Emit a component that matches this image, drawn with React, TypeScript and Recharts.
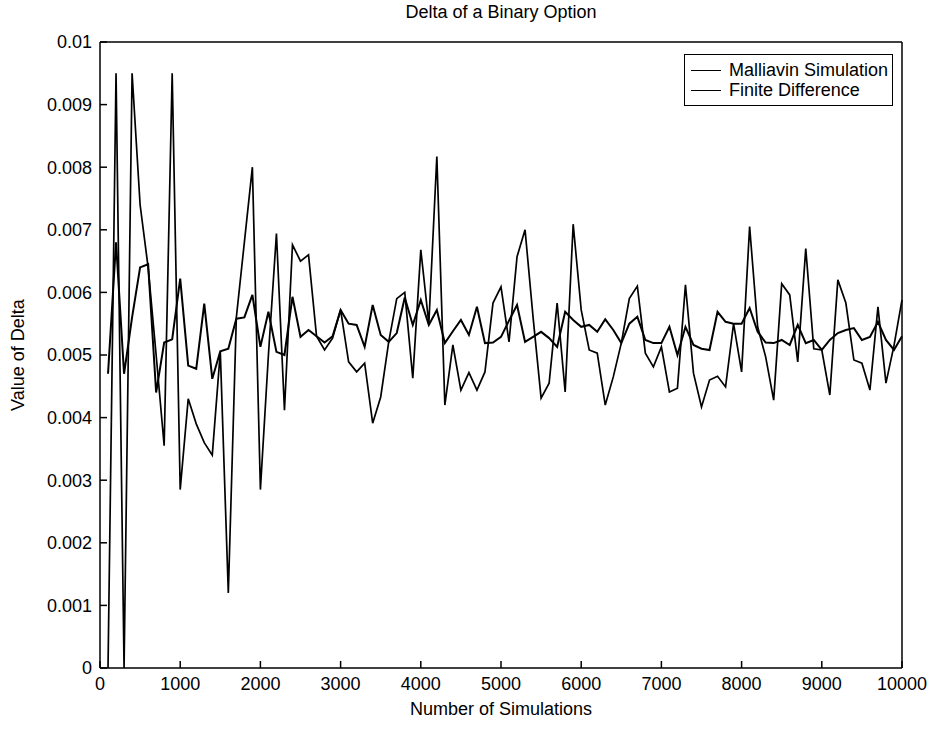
import { LineChart, Line, XAxis, YAxis, Legend } from "recharts";

// number of simulations at each sample
const SIMULATIONS = [
  100, 200, 300, 400, 500, 600, 700, 800, 900, 1000,
  1100, 1200, 1300, 1400, 1500, 1600, 1700, 1800, 1900, 2000,
  2100, 2200, 2300, 2400, 2500, 2600, 2700, 2800, 2900, 3000,
  3100, 3200, 3300, 3400, 3500, 3600, 3700, 3800, 3900, 4000,
  4100, 4200, 4300, 4400, 4500, 4600, 4700, 4800, 4900, 5000,
  5100, 5200, 5300, 5400, 5500, 5600, 5700, 5800, 5900, 6000,
  6100, 6200, 6300, 6400, 6500, 6600, 6700, 6800, 6900, 7000,
  7100, 7200, 7300, 7400, 7500, 7600, 7700, 7800, 7900, 8000,
  8100, 8200, 8300, 8400, 8500, 8600, 8700, 8800, 8900, 9000,
  9100, 9200, 9300, 9400, 9500, 9600, 9700, 9800, 9900, 10000,
];

const MALLIAVIN = [
  0.0047, 0.0068, 0.0047, 0.0056, 0.0064, 0.00645, 0.0044, 0.0052, 0.00525, 0.00622,
  0.00483, 0.00478, 0.00582, 0.00462, 0.00506, 0.0051, 0.00558, 0.0056, 0.00596, 0.00513,
  0.00569, 0.00505, 0.005, 0.00593, 0.00529, 0.0054, 0.0053, 0.0052, 0.0053, 0.00572,
  0.0055, 0.00548, 0.00513, 0.0058, 0.00532, 0.00521, 0.00535, 0.00592, 0.00548, 0.00588,
  0.00548, 0.00572, 0.00519, 0.00538, 0.00556, 0.00532, 0.00577, 0.00519, 0.0052, 0.00529,
  0.00555, 0.0058, 0.00521, 0.00529, 0.00537, 0.00527, 0.00513, 0.00569, 0.00556, 0.00545,
  0.00548, 0.00537, 0.00557, 0.0054, 0.00519, 0.0055, 0.00561, 0.00524, 0.00519, 0.00519,
  0.00545, 0.005, 0.00545, 0.00516, 0.0051, 0.00508, 0.00569, 0.00553, 0.0055, 0.0055,
  0.00575, 0.00537, 0.0052, 0.00519, 0.00524, 0.00516, 0.00548, 0.00519, 0.00524, 0.00508,
  0.00524, 0.00535, 0.0054, 0.00543, 0.00524, 0.00529, 0.00553, 0.00524, 0.00508, 0.0053,
];

const FINITE_DIFFERENCE = [
  0, 0.0095, 0, 0.0095, 0.0074, 0.0064, 0.005, 0.00355, 0.0095, 0.00285,
  0.0043, 0.0039, 0.0036, 0.0034, 0.00505, 0.0012, 0.0056, 0.0068, 0.008, 0.00285,
  0.005, 0.00694, 0.00412, 0.00676, 0.0065, 0.0066, 0.0053, 0.00508, 0.00527, 0.00572,
  0.00489, 0.00473, 0.00487, 0.00391, 0.00433, 0.00521, 0.0059, 0.006, 0.00463, 0.00668,
  0.0055, 0.00817, 0.0042, 0.00516, 0.00444, 0.00472, 0.00444, 0.00473, 0.00583, 0.00609,
  0.00521, 0.00657, 0.007, 0.0056, 0.00431, 0.00455, 0.00583, 0.00441, 0.00709, 0.00572,
  0.00508, 0.00503, 0.0042, 0.00465, 0.00519, 0.0059, 0.0061, 0.00503, 0.00481, 0.00513,
  0.00441, 0.00447, 0.00612, 0.00471, 0.00417, 0.0046, 0.00466, 0.00449, 0.0055, 0.00473,
  0.00705, 0.00545, 0.00497, 0.00428, 0.00614, 0.00596, 0.00489, 0.0067, 0.0051, 0.00508,
  0.00436, 0.0062, 0.00583, 0.00492, 0.00487, 0.00444, 0.00577, 0.00455, 0.00515, 0.00588,
];

const SERIES_NAMES = ["Malliavin Simulation", "Finite Difference"];
const X_TICKS = [0, 1000, 2000, 3000, 4000, 5000, 6000, 7000, 8000, 9000, 10000];
const Y_TICKS = [0, 0.001, 0.002, 0.003, 0.004, 0.005, 0.006, 0.007, 0.008, 0.009, 0.01];
const Y_TICK_LABELS = ["0", "0.001", "0.002", "0.003", "0.004", "0.005", "0.006", "0.007", "0.008", "0.009", "0.01"];

const FONT = '"Liberation Sans", Arial, Helvetica, sans-serif';
const FS = 18;

const data = SIMULATIONS.map((n, i) => ({
  n,
  malliavin: MALLIAVIN[i],
  fd: FINITE_DIFFERENCE[i],
}));

function LegendBox(props: any) {
  const items = [...(props.payload || [])].sort(
    (a: any, b: any) => SERIES_NAMES.indexOf(a.value) - SERIES_NAMES.indexOf(b.value)
  );
  return (
    <div
      style={{
        border: "1px solid #000",
        background: "#fff",
        padding: "5px 4px 5px 6px",
        fontFamily: FONT,
        fontSize: FS,
        lineHeight: "20px",
        color: "#000",
        whiteSpace: "nowrap",
      }}
    >
      {items.map((it: any) => (
        <div key={it.value} style={{ display: "flex", alignItems: "center" }}>
          <span
            style={{
              display: "inline-block",
              width: 30,
              borderTop: "1.6px solid #000",
              marginRight: 8,
            }}
          />
          <span>{it.value}</span>
        </div>
      ))}
    </div>
  );
}

const tickStyle = { fill: "#000", fontSize: FS, fontFamily: FONT };

export default function App() {
  return (
    <div
      style={{
        position: "absolute",
        left: 0,
        top: 0,
        width: 936,
        height: 730,
        background: "#fff",
        fontFamily: FONT,
      }}
    >
      <div
        style={{
          position: "absolute",
          top: 2,
          left: 100,
          width: 802,
          textAlign: "center",
          fontSize: FS,
        }}
      >
        Delta of a Binary Option
      </div>
      <div
        style={{
          position: "absolute",
          top: 699,
          left: 100,
          width: 802,
          textAlign: "center",
          fontSize: FS,
        }}
      >
        Number of Simulations
      </div>
      <div
        style={{
          position: "absolute",
          left: 18,
          top: 355,
          fontSize: FS,
          whiteSpace: "nowrap",
          transform: "translate(-50%, -50%) rotate(-90deg)",
        }}
      >
        Value of Delta
      </div>
      <LineChart
        width={936}
        height={730}
        data={data}
        margin={{ top: 41, right: 33, bottom: 61, left: 99 }}
      >
        <XAxis
          dataKey="n"
          type="number"
          domain={[0, 10000]}
          ticks={X_TICKS}
          height={1}
          tickSize={-7}
          tickMargin={16}
          tick={tickStyle}
          stroke="#000"
          strokeWidth={1.5}
          interval={0}
        />
        <XAxis
          xAxisId="top"
          orientation="top"
          dataKey="n"
          type="number"
          domain={[0, 10000]}
          ticks={X_TICKS}
          height={1}
          tickSize={-7}
          tick={false}
          stroke="#000"
          strokeWidth={1.5}
        />
        <YAxis
          type="number"
          domain={[0, 0.01]}
          ticks={Y_TICKS}
          width={1}
          tickSize={-7}
          tickMargin={15}
          tick={tickStyle}
          tickFormatter={(v: number) => Y_TICK_LABELS[Y_TICKS.indexOf(v)] ?? String(v)}
          stroke="#000"
          strokeWidth={1.5}
          interval={0}
        />
        <YAxis
          yAxisId="right"
          orientation="right"
          type="number"
          domain={[0, 0.01]}
          ticks={Y_TICKS}
          width={1}
          tickSize={-7}
          tick={false}
          stroke="#000"
          strokeWidth={1.5}
        />
        <Legend
          layout="vertical"
          align="center"
          verticalAlign="middle"
          content={<LegendBox />}
          wrapperStyle={{ left: 684, top: 54, width: 209 }}
        />
        <Line
          type="linear"
          dataKey="malliavin"
          name="Malliavin Simulation"
          stroke="#000"
          strokeWidth={2}
          dot={false}
          isAnimationActive={false}
        />
        <Line
          type="linear"
          dataKey="fd"
          name="Finite Difference"
          stroke="#000"
          strokeWidth={1.7}
          dot={false}
          isAnimationActive={false}
        />
      </LineChart>
    </div>
  );
}
